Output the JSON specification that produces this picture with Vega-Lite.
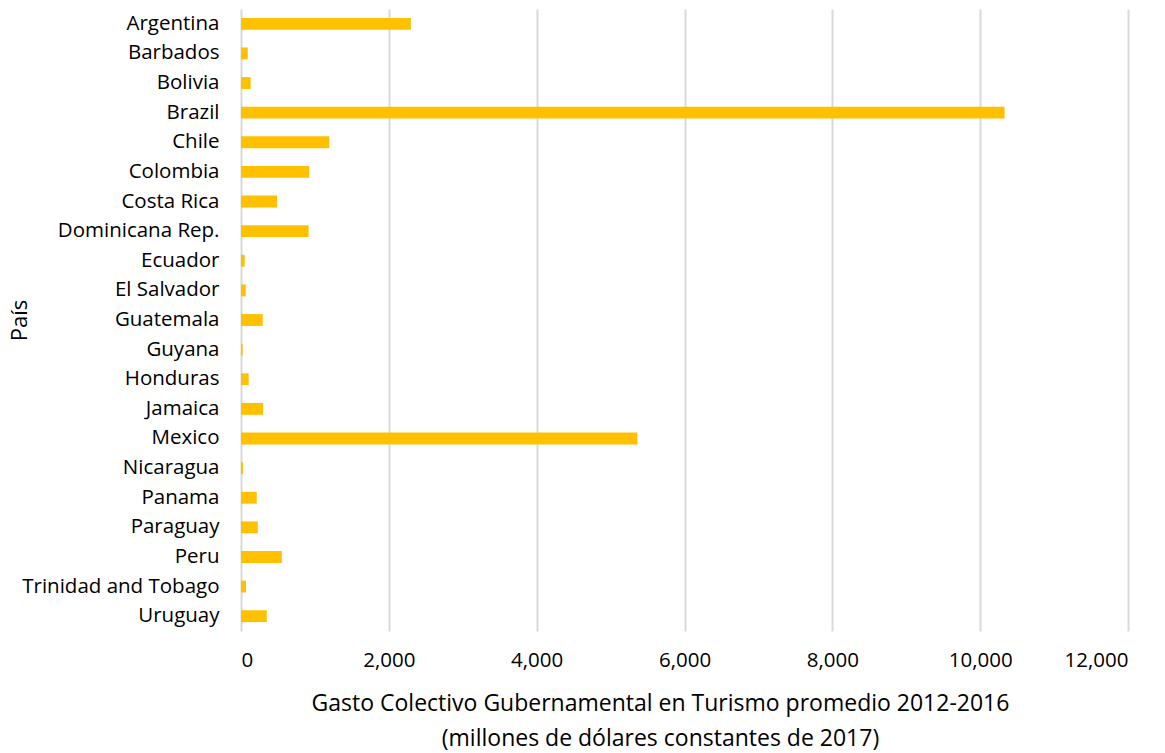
{
  "$schema": "https://vega.github.io/schema/vega-lite/v6.json",
  "autosize": {"type": "none"},
  "padding": {"left": 241, "top": 9, "right": 37, "bottom": 122},
  "width": 887,
  "height": 622,
  "background": "white",
  "data": {"values": [
    {"pais": "Argentina", "gasto": 2298},
    {"pais": "Barbados", "gasto": 91},
    {"pais": "Bolivia", "gasto": 131},
    {"pais": "Brazil", "gasto": 10330},
    {"pais": "Chile", "gasto": 1195},
    {"pais": "Colombia", "gasto": 923},
    {"pais": "Costa Rica", "gasto": 489},
    {"pais": "Dominicana Rep.", "gasto": 914},
    {"pais": "Ecuador", "gasto": 50},
    {"pais": "El Salvador", "gasto": 64},
    {"pais": "Guatemala", "gasto": 294},
    {"pais": "Guyana", "gasto": 23},
    {"pais": "Honduras", "gasto": 104},
    {"pais": "Jamaica", "gasto": 299},
    {"pais": "Mexico", "gasto": 5362},
    {"pais": "Nicaragua", "gasto": 27},
    {"pais": "Panama", "gasto": 213},
    {"pais": "Paraguay", "gasto": 227},
    {"pais": "Peru", "gasto": 552},
    {"pais": "Trinidad and Tobago", "gasto": 68},
    {"pais": "Uruguay", "gasto": 349}
  ]},
  "mark": {"type": "bar", "color": "#FFC000"},
  "encoding": {
    "y": {
      "field": "pais", "type": "nominal", "sort": null,
      "scale": {"paddingInner": 0.6, "paddingOuter": 0.3},
      "axis": {
        "title": "País", "domain": false, "ticks": false, "labelPadding": 22, "labelLimit": 300,
        "labelFont": "Open Sans", "labelFontSize": 20.5, "labelColor": "#000000",
        "titleFont": "Open Sans", "titleFontSize": 22, "titleFontWeight": "normal", "titleColor": "#000000",
        "titleAngle": -90, "titleX": -222, "titleY": 311, "titleAlign": "center", "titleBaseline": "middle"
      }
    },
    "x": {
      "field": "gasto", "type": "quantitative",
      "scale": {"domain": [0, 12000], "nice": false},
      "axis": {
        "title": ["Gasto Colectivo Gubernamental en Turismo promedio 2012-2016", "(millones de dólares constantes de 2017)"],
        "values": [0, 2000, 4000, 6000, 8000, 10000, 12000], "format": ",d",
        "domain": false, "ticks": false, "labelPadding": 19,
        "labelFont": "Open Sans", "labelFontSize": 20.5, "labelColor": "#000000",
        "grid": true, "gridColor": "#d9d9d9", "gridWidth": 2,
        "titleFont": "Open Sans", "titleFontSize": 23, "titleFontWeight": "normal", "titleColor": "#000000",
        "titleLineHeight": 35, "titleX": 419, "titleAlign": "center", "titlePadding": 22
      }
    }
  },
  "config": {"view": {"stroke": null}, "axisY": {"grid": false}}
}
